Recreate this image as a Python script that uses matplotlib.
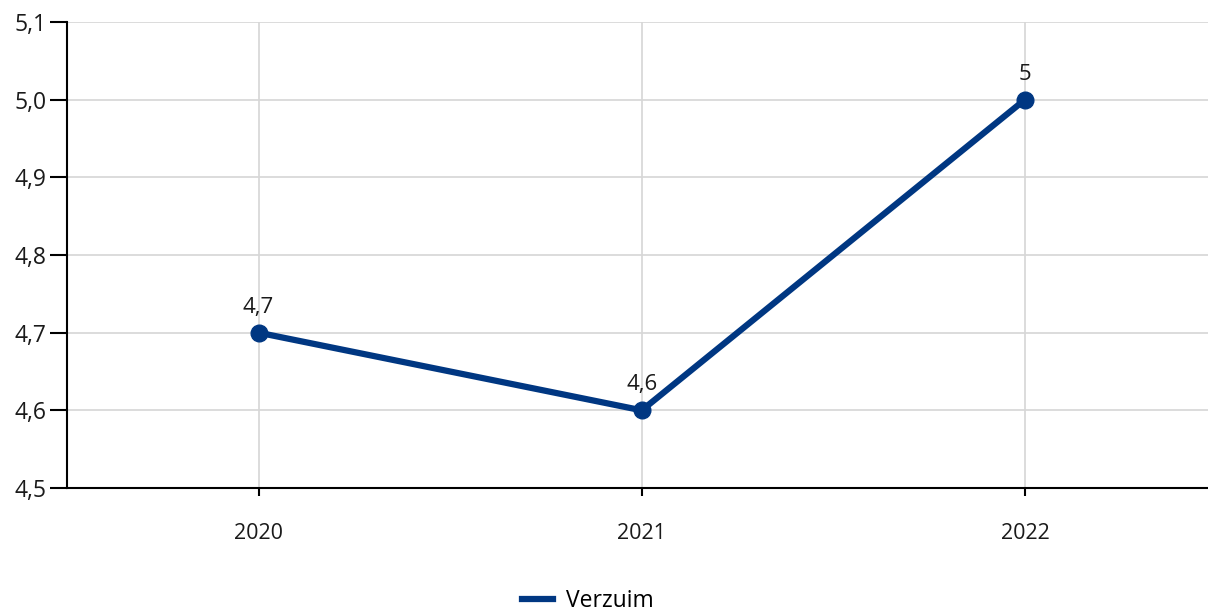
import matplotlib
matplotlib.use("Agg")
import matplotlib.pyplot as plt

years = ["2020", "2021", "2022"]
verzuim = [4.7, 4.6, 5.0]
value_labels = ["4,7", "4,6", "5"]
y_ticks = [4.5, 4.6, 4.7, 4.8, 4.9, 5.0, 5.1]
y_tick_labels = ["4,5", "4,6", "4,7", "4,8", "4,9", "5,0", "5,1"]

NAVY = "#003782"

plt.rcParams["font.family"] = ["Open Sans", "DejaVu Sans"]

fig = plt.figure(figsize=(12.08, 6.11), dpi=100)
# axes run a little past the right edge so the last category sits like the others
ax = fig.add_axes([67 / 1208, 123 / 611, 1149.5 / 1208, 466 / 611])

x = list(range(len(years)))
ax.plot(x, verzuim, color=NAVY, linewidth=4.5, marker="o", markersize=12,
        solid_capstyle="round", zorder=3, label="Verzuim")

for xi, val, lab in zip(x, verzuim, value_labels):
    ax.annotate(lab, (xi, val), xytext=(0, 20), textcoords="offset pixels",
                ha="center", va="baseline", fontsize=16, color="#1a1a1a")

ax.set_xlim(-0.5, 2.5)
ax.set_ylim(4.5, 5.1)
ax.set_xticks(x)
ax.set_xticklabels(years, fontsize=15.5, color="#1a1a1a")
ax.set_yticks(y_ticks)
ax.set_yticklabels(y_tick_labels, fontsize=16.5, color="#1a1a1a")

ax.grid(True, color="#d6d6d6", linewidth=1.2)
ax.set_axisbelow(True)
for side in ("top", "right"):
    ax.spines[side].set_visible(False)
for side in ("left", "bottom"):
    ax.spines[side].set_linewidth(1.5)
    ax.spines[side].set_color("black")
ax.tick_params(axis="y", length=12, width=1.5, pad=3)
ax.tick_params(axis="x", length=6, width=1.5, pad=19)

handle = plt.Line2D([], [], color=NAVY, linewidth=4.5)
fig.legend([handle], ["Verzuim"], loc="center", bbox_to_anchor=(588 / 1208, 1 - 601 / 611),
           frameon=False, fontsize=16.5, handlelength=1.35, handletextpad=0.6)

fig.savefig("out.png", dpi=100)
